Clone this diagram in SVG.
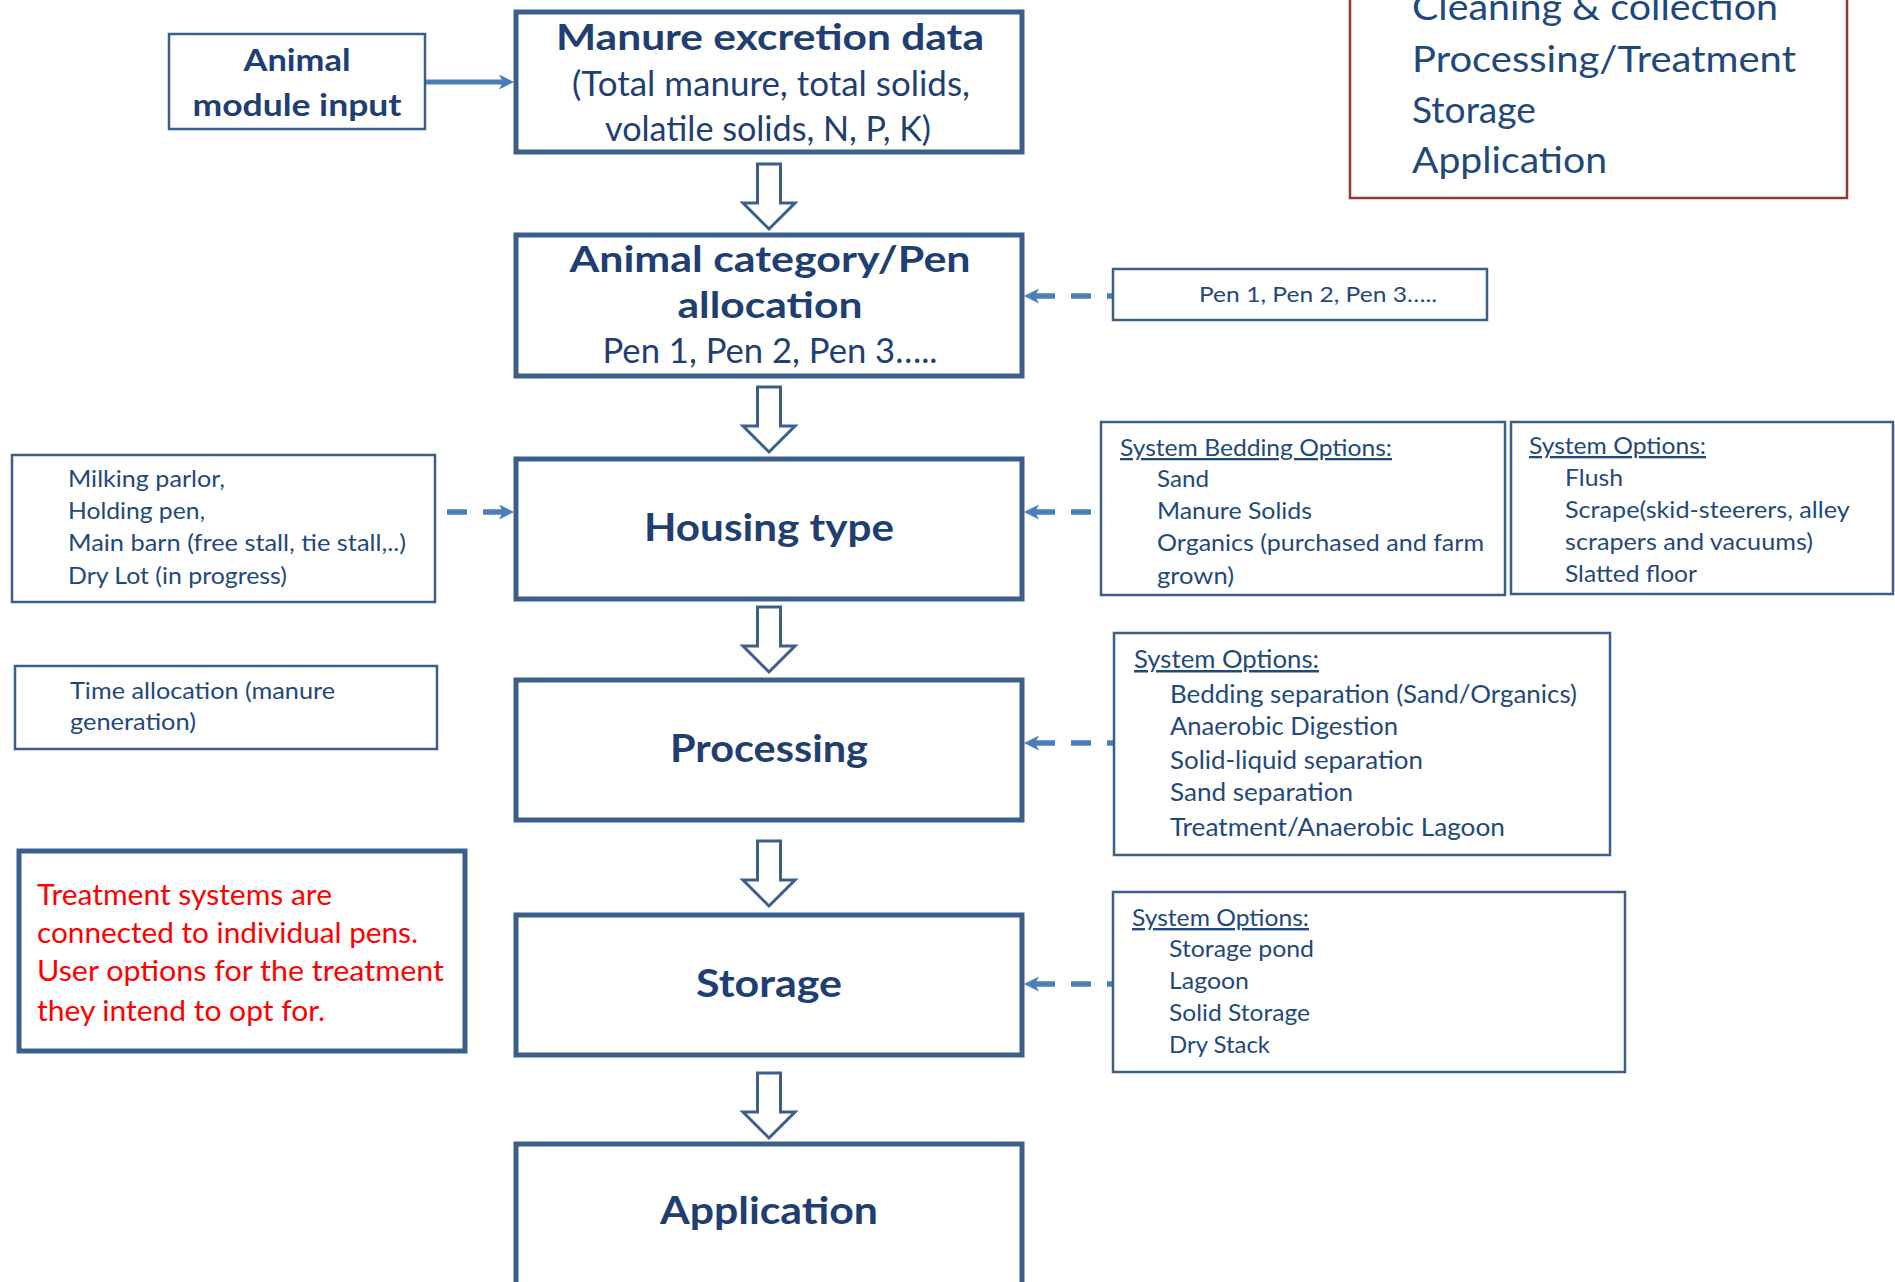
<svg xmlns="http://www.w3.org/2000/svg" width="1895" height="1282" viewBox="0 0 1895 1282">
<defs>
<style>
.main{fill:#fff;stroke:#3C5E8B;stroke-width:5}
.thin{fill:#fff;stroke:#3C5E8B;stroke-width:2.5}
.red{fill:#fff;stroke:#953735;stroke-width:2.5}
.blk{fill:#fff;stroke:#3C5E8B;stroke-width:3;stroke-linejoin:miter}
.dash{fill:none;stroke:#4A7EBB;stroke-width:5.5;stroke-dasharray:20 16}
.solid{fill:none;stroke:#4A7EBB;stroke-width:5}
.t{font-family:Lato,"Open Sans","DejaVu Sans",sans-serif;fill:#1F497D}
.tb{font-family:Lato,"Open Sans","DejaVu Sans",sans-serif;font-weight:bold;fill:#1F3F73;text-anchor:middle}
.tn{font-family:Lato,"Open Sans","DejaVu Sans",sans-serif;font-weight:normal;fill:#1F3F73;text-anchor:middle}
.tr{font-family:Lato,"Open Sans","DejaVu Sans",sans-serif;fill:#FF0000}
.u{text-decoration:underline}
</style>
<marker id="ah" viewBox="0 0 15 15" refX="4" refY="7.5" markerWidth="15" markerHeight="15" orient="auto-start-reverse" markerUnits="userSpaceOnUse">
<path d="M0,0 L15,7.5 L0,15 L4,7.5 Z" fill="#4A7EBB"/>
</marker>
</defs>

<g id="connectors">
<line class="solid" x1="425" y1="82" x2="503" y2="82" marker-end="url(#ah)"/>
<line class="dash" x1="1035" y1="296" x2="1112" y2="296" marker-start="url(#ah)"/>
<line class="dash" x1="503" y1="512" x2="436" y2="512" marker-start="url(#ah)"/>
<line class="dash" x1="1035" y1="512" x2="1100" y2="512" marker-start="url(#ah)"/>
<line class="dash" x1="1035" y1="743" x2="1113" y2="743" marker-start="url(#ah)"/>
<line class="dash" x1="1035" y1="984" x2="1112" y2="984" marker-start="url(#ah)"/>
<path class="blk" d="M757.5,164 H780.5 V203 H795 L769,229 L743,203 H757.5 Z"/>
<path class="blk" d="M757.5,387 H780.5 V426 H795 L769,452 L743,426 H757.5 Z"/>
<path class="blk" d="M757.5,607 H780.5 V646 H795 L769,672 L743,646 H757.5 Z"/>
<path class="blk" d="M757.5,841 H780.5 V880 H795 L769,906 L743,880 H757.5 Z"/>
<path class="blk" d="M757.5,1073 H780.5 V1112 H795 L769,1138 L743,1112 H757.5 Z"/>
</g>

<g id="animal-input">
<rect class="thin" x="169" y="34" width="256" height="95"/>
<text class="tb" x="297" y="71" font-size="31" textLength="107" lengthAdjust="spacingAndGlyphs">Animal</text>
<text class="tb" x="297" y="116" font-size="31" textLength="209" lengthAdjust="spacingAndGlyphs">module input</text>
</g>

<g id="manure-excretion">
<rect class="main" x="516" y="12" width="506" height="140"/>
<text class="tb" x="770" y="50" font-size="36" textLength="428" lengthAdjust="spacingAndGlyphs">Manure excretion data</text>
<text class="tn" x="771" y="96" font-size="34" textLength="398" lengthAdjust="spacingAndGlyphs">(Total manure, total solids,</text>
<text class="tn" x="768" y="141" font-size="34" textLength="326" lengthAdjust="spacingAndGlyphs">volatile solids, N, P, K)</text>
</g>

<g id="animal-category">
<rect class="main" x="516" y="235" width="506" height="141"/>
<text class="tb" x="770" y="272" font-size="36" textLength="401" lengthAdjust="spacingAndGlyphs">Animal category/Pen</text>
<text class="tb" x="770" y="318" font-size="36" textLength="185" lengthAdjust="spacingAndGlyphs">allocation</text>
<text class="tn" x="770" y="363" font-size="34" textLength="335" lengthAdjust="spacingAndGlyphs">Pen  1, Pen 2, Pen 3…..</text>
</g>

<g id="pen-list">
<rect class="thin" x="1113" y="269" width="374" height="51"/>
<text class="t" x="1199" y="302" font-size="22" textLength="238" lengthAdjust="spacingAndGlyphs">Pen 1, Pen 2, Pen 3…..</text>
</g>

<g id="housing-type">
<rect class="main" x="516" y="459" width="506" height="140"/>
<text class="tb" x="769" y="541" font-size="38" textLength="250" lengthAdjust="spacingAndGlyphs">Housing type</text>
</g>

<g id="housing-locations">
<rect class="thin" x="12" y="455" width="423" height="147"/>
<text class="t" font-size="23">
<tspan x="68" y="487" textLength="157" lengthAdjust="spacingAndGlyphs">Milking parlor,</tspan>
<tspan x="68" y="519" textLength="137" lengthAdjust="spacingAndGlyphs">Holding pen,</tspan>
<tspan x="68" y="551" textLength="338" lengthAdjust="spacingAndGlyphs">Main barn (free stall, tie stall,..)</tspan>
<tspan x="68" y="584" textLength="219" lengthAdjust="spacingAndGlyphs">Dry Lot (in progress)</tspan>
</text>
</g>

<g id="bedding-options">
<rect class="thin" x="1101" y="422" width="404" height="173"/>
<text class="t" font-size="23">
<tspan class="u" x="1120" y="456" textLength="272" lengthAdjust="spacingAndGlyphs">System Bedding Options:</tspan>
<tspan x="1157" y="487" textLength="52" lengthAdjust="spacingAndGlyphs">Sand</tspan>
<tspan x="1157" y="519" textLength="155" lengthAdjust="spacingAndGlyphs">Manure Solids</tspan>
<tspan x="1157" y="551" textLength="327" lengthAdjust="spacingAndGlyphs">Organics (purchased and farm</tspan>
<tspan x="1157" y="584" textLength="77" lengthAdjust="spacingAndGlyphs">grown)</tspan>
</text>
</g>

<g id="cleaning-options">
<rect class="thin" x="1511" y="422" width="382" height="172"/>
<text class="t" font-size="23">
<tspan class="u" x="1529" y="454" textLength="177" lengthAdjust="spacingAndGlyphs">System Options:</tspan>
<tspan x="1565" y="486" textLength="58" lengthAdjust="spacingAndGlyphs">Flush</tspan>
<tspan x="1565" y="518" textLength="284" lengthAdjust="spacingAndGlyphs">Scrape(skid-steerers, alley</tspan>
<tspan x="1565" y="550" textLength="248" lengthAdjust="spacingAndGlyphs">scrapers and vacuums)</tspan>
<tspan x="1565" y="582" textLength="132" lengthAdjust="spacingAndGlyphs">Slatted floor</tspan>
</text>
</g>

<g id="time-allocation">
<rect class="thin" x="15" y="666" width="422" height="83"/>
<text class="t" font-size="23">
<tspan x="70" y="699" textLength="265" lengthAdjust="spacingAndGlyphs">Time allocation (manure</tspan>
<tspan x="70" y="730" textLength="126" lengthAdjust="spacingAndGlyphs">generation)</tspan>
</text>
</g>

<g id="processing">
<rect class="main" x="516" y="680" width="506" height="140"/>
<text class="tb" x="769" y="762" font-size="38" textLength="198" lengthAdjust="spacingAndGlyphs">Processing</text>
</g>

<g id="processing-options">
<rect class="thin" x="1114" y="633" width="496" height="222"/>
<text class="t" font-size="25">
<tspan class="u" x="1134" y="668" textLength="185" lengthAdjust="spacingAndGlyphs">System Options:</tspan>
<tspan x="1170" y="703" textLength="407" lengthAdjust="spacingAndGlyphs">Bedding separation (Sand/Organics)</tspan>
<tspan x="1170" y="735" textLength="228" lengthAdjust="spacingAndGlyphs">Anaerobic Digestion</tspan>
<tspan x="1170" y="769" textLength="253" lengthAdjust="spacingAndGlyphs">Solid-liquid separation</tspan>
<tspan x="1170" y="801" textLength="183" lengthAdjust="spacingAndGlyphs">Sand separation</tspan>
<tspan x="1170" y="836" textLength="335" lengthAdjust="spacingAndGlyphs">Treatment/Anaerobic Lagoon</tspan>
</text>
</g>

<g id="treatment-note">
<rect class="main" x="19" y="851" width="446" height="200"/>
<text class="tr" font-size="29">
<tspan x="37" y="905" textLength="295" lengthAdjust="spacingAndGlyphs">Treatment systems are</tspan>
<tspan x="37" y="943" textLength="381" lengthAdjust="spacingAndGlyphs">connected to individual pens.</tspan>
<tspan x="37" y="981" textLength="407" lengthAdjust="spacingAndGlyphs">User options for the treatment</tspan>
<tspan x="37" y="1021" textLength="288" lengthAdjust="spacingAndGlyphs">they intend to opt for.</tspan>
</text>
</g>

<g id="storage">
<rect class="main" x="516" y="915" width="506" height="140"/>
<text class="tb" x="769" y="997" font-size="38" textLength="146" lengthAdjust="spacingAndGlyphs">Storage</text>
</g>

<g id="storage-options">
<rect class="thin" x="1113" y="892" width="512" height="180"/>
<text class="t" font-size="24">
<tspan class="u" x="1132" y="926" textLength="177" lengthAdjust="spacingAndGlyphs">System Options:</tspan>
<tspan x="1169" y="957" textLength="145" lengthAdjust="spacingAndGlyphs">Storage pond</tspan>
<tspan x="1169" y="989" textLength="80" lengthAdjust="spacingAndGlyphs">Lagoon</tspan>
<tspan x="1169" y="1021" textLength="141" lengthAdjust="spacingAndGlyphs">Solid Storage</tspan>
<tspan x="1169" y="1053" textLength="101" lengthAdjust="spacingAndGlyphs">Dry Stack</tspan>
</text>
</g>

<g id="application">
<rect class="main" x="516" y="1144" width="506" height="150"/>
<text class="tb" x="769" y="1224" font-size="38" textLength="218" lengthAdjust="spacingAndGlyphs">Application</text>
</g>

<g id="stages-legend">
<rect class="red" x="1350" y="-20" width="497" height="218"/>
<text class="t" font-size="37">
<tspan x="1412" y="20" textLength="366" lengthAdjust="spacingAndGlyphs">Cleaning &amp; collection</tspan>
<tspan x="1412" y="72" textLength="384" lengthAdjust="spacingAndGlyphs">Processing/Treatment</tspan>
<tspan x="1412" y="123" textLength="124" lengthAdjust="spacingAndGlyphs">Storage</tspan>
<tspan x="1412" y="173" textLength="195" lengthAdjust="spacingAndGlyphs">Application</tspan>
</text>
</g>
</svg>
